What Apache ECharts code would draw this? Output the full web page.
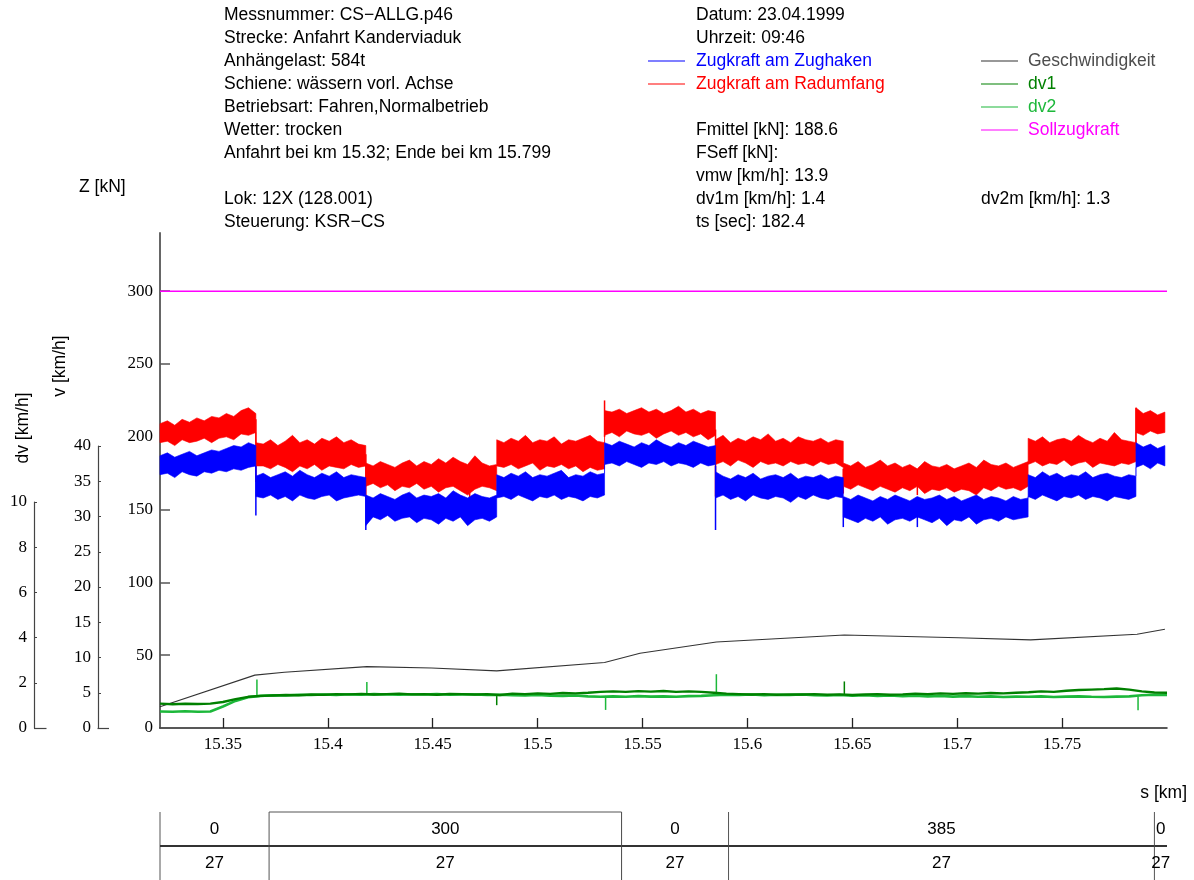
<!DOCTYPE html>
<html>
<head>
<meta charset="utf-8">
<script src="https://cdn.jsdelivr.net/npm/echarts@6.0.0/dist/echarts.min.js"></script>
<style>
  html, body { margin: 0; padding: 0; background: #fff; }
  #chart { width: 1194px; height: 880px; }
</style>
</head>
<body>
<div id="chart"></div>
<script>
// ---- track range (km) and axis ticks ----
const kmMin = 15.32;
const kmMax = 15.8;
const xTicks = [15.35, 15.4, 15.45, 15.5, 15.55, 15.6, 15.65, 15.7, 15.75];
const zTicks = [0, 50, 100, 150, 200, 250, 300];

// ---- tractive force: sections between load steps (km) ----
const segKm = [15.32, 15.3657, 15.4181, 15.4805, 15.5319, 15.5848, 15.6457, 15.7338, 15.7852, 15.799];

// Zugkraft am Radumfang [kN]: upper / lower edge of the signal per section
const redHi = [
  [209,211,208,212,210,213,211,214,213,216,214,218,220,216],
  [196,195,198,194,197,201,196,198,195,199,197,200,196,198,195,194],
  [182,180,183,181,179,182,184,180,183,181,185,182,186,183,181,187,182,180,181],
  [198,196,199,197,201,196,198,197,200,195,198,197,199,201,197,196],
  [218,217,219,216,218,220,217,219,216,218,221,217,219,216,218,217],
  [198,201,196,199,197,200,198,202,197,199,196,200,198,197,199,196,198,197],
  [182,180,183,179,181,184,180,182,179,181,178,183,180,179,181,178,180,182,179,184,181,180,182,179,181,183],
  [199,197,200,196,198,199,197,201,198,196,199,197,203,198,197,196],
  [220,216,218,215,217]
];
const redLo = [
  [196,197,194,198,196,197,199,196,199,200,198,202,201,203],
  [180,180,178,181,179,176,180,178,181,177,180,179,178,181,179,180],
  [166,168,165,167,163,166,165,168,164,166,162,165,166,163,160,164,166,165,163],
  [180,179,181,178,180,182,177,180,179,181,178,180,176,179,177,178],
  [201,203,200,204,202,201,203,199,202,204,201,203,200,202,198,201],
  [181,183,180,184,182,179,183,181,182,180,183,181,182,180,183,181,182,179],
  [166,164,167,165,163,166,164,162,165,163,166,161,164,163,165,162,164,163,160,165,163,166,164,165,163,166],
  [181,183,180,182,181,184,180,182,183,179,182,181,180,182,181,183],
  [203,201,204,202,203]
];
// single-sample peaks [km, from, to]
const redSpikes = [[15.3657,169,212],[15.4181,158,188],[15.4676,158,172],[15.5319,200,225],[15.5848,159,205],[15.6457,161,178],[15.681,160,172],[15.7852,190,220]];

// Zugkraft am Zughaken [kN]
const blueHi = [
  [187,189,186,188,190,187,189,191,190,192,194,193,196,194],
  [173,175,172,174,176,173,177,174,172,175,173,176,172,174,173,172],
  [160,158,161,159,157,160,162,158,160,159,161,158,163,160,158,161,159,158,160],
  [174,172,175,173,176,172,174,173,175,177,172,174,173,176,174,175],
  [196,194,197,195,193,196,194,198,195,193,196,194,197,195,193,194],
  [176,173,171,174,172,175,171,173,174,172,175,171,173,172,174,171,173,172],
  [159,157,160,158,156,159,157,160,158,156,159,157,158,160,157,159,156,158,160,157,159,158,156,159,157,158],
  [174,172,176,173,175,172,174,173,176,172,174,175,173,172,174,173],
  [196,193,195,192,194]
];
const blueLo = [
  [174,175,172,176,174,173,176,175,177,176,178,177,179,180],
  [159,158,160,157,159,156,160,158,157,159,160,156,158,159,160,159],
  [139,145,143,146,142,144,145,141,144,143,140,144,142,145,139,143,144,142,145],
  [158,159,157,160,158,156,159,158,160,157,159,158,156,159,158,160],
  [181,182,180,183,181,179,182,181,183,180,182,181,179,182,180,181],
  [158,160,157,159,156,160,158,157,159,158,155,159,157,160,158,157,159,158],
  [145,143,141,144,142,145,140,143,144,142,145,143,141,144,139,143,142,145,140,143,144,142,145,143,144,145],
  [159,157,160,158,156,159,158,160,157,159,158,156,159,158,157,159],
  [179,181,178,182,180]
];
const blueSpikes = [[15.3657,146,180],[15.4181,136,160],[15.5848,136,180],[15.6457,138,158],[15.681,138,150]];

// Sollzugkraft [kN]
const sollZugkraft = 300;

// ---- speed [km/h] ----
const speedKm  = [15.32, 15.3652, 15.3793, 15.4186, 15.4495, 15.4805, 15.5319, 15.5488, 15.5852, 15.6462, 15.7006, 15.735, 15.7857, 15.799];
const speedKmh = [3.0, 7.5, 7.9, 8.7, 8.5, 8.1, 9.3, 10.6, 12.2, 13.2, 12.8, 12.5, 13.3, 14.0];

// ---- speed differences dv1 / dv2 [km/h], sampled every 6 m from km 15.32 ----
const dvStartKm = 15.32;
const dvStepKm = 0.006;
const dv1 = [
  1.08,1.05,1.07,1.06,1.08, 1.15,1.28,1.38,1.42,1.44,
  1.46,1.45,1.48,1.47,1.50, 1.49,1.51,1.48,1.50,1.52,
  1.49,1.50,1.47,1.51,1.50, 1.48,1.50,1.46,1.52,1.50,
  1.53,1.51,1.55,1.53,1.56, 1.60,1.62,1.60,1.63,1.61,
  1.64,1.60,1.62,1.60,1.56, 1.52,1.50,1.48,1.50,1.47,
  1.49,1.48,1.50,1.47,1.49, 1.46,1.48,1.50,1.47,1.49,
  1.52,1.50,1.53,1.51,1.54, 1.52,1.55,1.53,1.56,1.58,
  1.62,1.60,1.65,1.68,1.70, 1.72,1.75,1.70,1.62,1.57,
  1.56
];
const dv2 = [
  0.73,0.72,0.74,0.72,0.73, 0.95,1.20,1.36,1.42,1.45,
  1.44,1.47,1.46,1.48,1.46, 1.49,1.47,1.50,1.48,1.47,
  1.49,1.48,1.50,1.47,1.49, 1.48,1.46,1.47,1.45,1.44,
  1.46,1.43,1.42,1.44,1.40, 1.38,1.40,1.38,1.41,1.39,
  1.40,1.38,1.41,1.42,1.45, 1.47,1.46,1.48,1.45,1.47,
  1.46,1.48,1.45,1.44,1.46, 1.43,1.45,1.42,1.44,1.41,
  1.43,1.40,1.42,1.39,1.41, 1.38,1.40,1.37,1.39,1.38,
  1.40,1.37,1.39,1.40,1.38, 1.37,1.39,1.40,1.45,1.47,
  1.46
];
const dv1Spikes = [[15.4805,1.50,1.01],[15.6462,1.48,2.06]];
const dv2Spikes = [[15.3662,1.45,2.15],[15.4186,1.48,2.04],[15.5324,1.42,0.80],[15.5852,1.55,2.38],[15.7862,1.40,0.78]];

// ---- track table: section limits, curve radius [m], gradient [‰] ----
const sectionKm = [15.32, 15.372, 15.54, 15.591, 15.794, 15.8];
const radius    = [0, 300, 0, 385, 0];
const gradient  = [27, 27, 27, 27, 27];
const curveSide = [0, 1, 0, -1, 0];

// ---- header texts ----
const infoLeft = [
  'Messnummer: CS\u2212ALLG.p46',
  'Strecke: Anfahrt Kanderviaduk',
  'Anhängelast: 584t',
  'Schiene: wässern vorl. Achse',
  'Betriebsart: Fahren,Normalbetrieb',
  'Wetter: trocken',
  'Anfahrt bei km 15.32; Ende bei km 15.799',
  '',
  'Lok: 12X (128.001)',
  'Steuerung: KSR\u2212CS'
];
const infoMid = ['Datum: 23.04.1999', 'Uhrzeit: 09:46', '', '', '', 'Fmittel [kN]: 188.6', 'FSeff [kN]:', 'vmw [km/h]: 13.9', 'dv1m [km/h]: 1.4', 'ts [sec]: 182.4'];
const infoRight = ['', '', '', '', '', '', '', '', 'dv2m [km/h]: 1.3', ''];

const COLORS = {
  red: '#ff0000', blue: '#0000ff', speed: '#333333', dv1: '#008000', dv2: '#1cb83a', soll: '#ff00ff'
};
const legendMid = [
  { name: 'Zugkraft am Zughaken', line: COLORS.blue, text: COLORS.blue, row: 2 },
  { name: 'Zugkraft am Radumfang', line: COLORS.red, text: COLORS.red, row: 3 }
];
const legendRight = [
  { name: 'Geschwindigkeit', line: COLORS.speed, text: '#4d4d4d', row: 2 },
  { name: 'dv1', line: COLORS.dv1, text: COLORS.dv1, row: 3 },
  { name: 'dv2', line: COLORS.dv2, text: COLORS.dv2, row: 4 },
  { name: 'Sollzugkraft', line: COLORS.soll, text: COLORS.soll, row: 5 }
];

const SANS = '"Liberation Sans", Arial, sans-serif';
const SERIF = '"Liberation Serif", "Times New Roman", serif';
const HEAD_FONT = '17.5px ' + SANS;

// ---- helpers ----
function bandPolygon(hi, lo) {
  const upper = [], lower = [];
  for (let s = 0; s < hi.length; s++) {
    const a = segKm[s], b = segKm[s + 1], n = hi[s].length;
    for (let j = 0; j < n; j++) {
      const km = a + j * (b - a) / (n - 1);
      upper.push([km, hi[s][j]]);
      lower.push([km, lo[s][j]]);
    }
  }
  return upper.concat(lower.reverse());
}
function bandSeries(name, poly, color) {
  return {
    type: 'custom', name, xAxisIndex: 0, yAxisIndex: 0, silent: true,
    data: [[poly[0][0], poly[0][1]]],
    renderItem: (params, api) => ({
      type: 'polygon',
      shape: { points: poly.map(p => api.coord(p)) },
      style: { fill: color, stroke: color, lineWidth: 0.6, lineJoin: 'miter', miterLimit: 20 }
    })
  };
}
function spikeSeries(spikes, color, axisIdx, width) {
  return {
    type: 'custom', xAxisIndex: axisIdx, yAxisIndex: axisIdx, silent: true,
    data: spikes, encode: { x: 0, y: [1, 2] },
    renderItem: (params, api) => {
      const p1 = api.coord([api.value(0), api.value(1)]);
      const p2 = api.coord([api.value(0), api.value(2)]);
      return { type: 'line', shape: { x1: p1[0], y1: p1[1], x2: p2[0], y2: p2[1] }, style: { stroke: color, lineWidth: width } };
    }
  };
}
const dvPairs = arr => arr.map((v, i) => [dvStartKm + i * dvStepKm, v]);
const rowY = r => 15 + 23 * r;

function txt(x, y, text, color, align, extra) {
  const a = align || 'left';
  return Object.assign({
    type: 'text', x, y, silent: true,
    style: { text, fill: color, font: HEAD_FONT, textAlign: a, textVerticalAlign: 'middle', align: a, verticalAlign: 'middle' }
  }, extra || {});
}
function seg(x1, y1, x2, y2, color, w) {
  return { type: 'line', silent: true, shape: { x1, y1, x2, y2 }, style: { stroke: color, lineWidth: w || 1 } };
}

// ---- header / legend / axis titles ----
const graphics = [];
infoLeft.forEach((t, r) => { if (t) graphics.push(txt(224, rowY(r), t, '#000')); });
infoMid.forEach((t, r) => { if (t) graphics.push(txt(696, rowY(r), t, '#000')); });
infoRight.forEach((t, r) => { if (t) graphics.push(txt(981, rowY(r), t, '#000')); });
legendMid.forEach(l => {
  graphics.push(seg(648, rowY(l.row), 685, rowY(l.row), l.line, 1.2));
  graphics.push(txt(696, rowY(l.row), l.name, l.text));
});
legendRight.forEach(l => {
  graphics.push(seg(981, rowY(l.row), 1018, rowY(l.row), l.line, 1.2));
  graphics.push(txt(1028, rowY(l.row), l.name, l.text));
});
graphics.push(txt(79, 187, 'Z [kN]', '#000'));
graphics.push(txt(60, 366, 'v [km/h]', '#000', 'center', { rotation: Math.PI / 2 }));
graphics.push(txt(23, 428, 'dv [km/h]', '#000', 'center', { rotation: Math.PI / 2 }));
graphics.push(txt(1187, 793, 's [km]', '#000', 'right'));
// foot of the v and dv scales
graphics.push(seg(97.5, 728.5, 109, 728.5, '#444', 1.2));
graphics.push(seg(34, 728.5, 46.5, 728.5, '#444', 1.2));

// ---- axes ----
const hiddenX = gi => ({ gridIndex: gi, type: 'value', min: kmMin, max: kmMax, show: false });
const sideAxis = (gi, max, interval, offset) => ({
  gridIndex: gi, type: 'value', min: 0, max, interval, offset, position: 'left',
  axisLine: { show: true, lineStyle: { color: '#444', width: 1.2 } },
  axisTick: { show: true, inside: true, length: 3, lineStyle: { color: '#444' } },
  axisLabel: { fontFamily: SERIF, fontSize: 17, color: '#000', margin: 7 },
  splitLine: { show: false }
});

const redPoly = bandPolygon(redHi, redLo);
const bluePoly = bandPolygon(blueHi, blueLo);

const option = {
  animation: false,
  backgroundColor: '#ffffff',
  grid: [
    { left: 160, right: 27, top: 233, bottom: 152 },
    { left: 160, right: 27, top: 446, bottom: 152 },
    { left: 160, right: 27, top: 502, bottom: 152 },
    { left: 160, right: 27, top: 812, bottom: 0 }
  ],
  xAxis: [
    {
      gridIndex: 0, type: 'value', min: kmMin, max: kmMax,
      axisLine: { lineStyle: { color: '#222', width: 1.5 } },
      axisTick: { inside: true, length: 10, customValues: xTicks, lineStyle: { color: '#222', width: 1.3 } },
      axisLabel: {
        customValues: xTicks, fontFamily: SERIF, fontSize: 17, color: '#000', margin: 8,
        formatter: v => String(+(+v).toFixed(2))
      },
      splitLine: { show: false }
    },
    hiddenX(1), hiddenX(2), hiddenX(3)
  ],
  yAxis: [
    {
      gridIndex: 0, type: 'value', min: 0, max: 340,
      axisLine: { show: true, lineStyle: { color: '#666', width: 2 } },
      axisTick: { show: true, inside: true, length: 10, customValues: zTicks, lineStyle: { color: '#555', width: 1.5 } },
      axisLabel: { customValues: zTicks, fontFamily: SERIF, fontSize: 17, color: '#000', margin: 7 },
      splitLine: { show: false }
    },
    sideAxis(1, 40, 5, 62),
    sideAxis(2, 10, 2, 126),
    { gridIndex: 3, type: 'value', min: 0, max: 2, inverse: true, show: false }
  ],
  series: [
    {
      type: 'line', name: 'Sollzugkraft', xAxisIndex: 0, yAxisIndex: 0, showSymbol: false, silent: true,
      data: [[kmMin, sollZugkraft], [kmMax, sollZugkraft]],
      lineStyle: { color: COLORS.soll, width: 1.5 }
    },
    bandSeries('Zugkraft am Radumfang', redPoly, COLORS.red),
    spikeSeries(redSpikes, COLORS.red, 0, 1.5),
    bandSeries('Zugkraft am Zughaken', bluePoly, COLORS.blue),
    spikeSeries(blueSpikes, COLORS.blue, 0, 1.5),
    {
      type: 'line', name: 'Geschwindigkeit', xAxisIndex: 1, yAxisIndex: 1, showSymbol: false, silent: true,
      data: speedKm.map((k, i) => [k, speedKmh[i]]),
      lineStyle: { color: COLORS.speed, width: 1.1 }
    },
    {
      type: 'line', name: 'dv2', xAxisIndex: 2, yAxisIndex: 2, showSymbol: false, silent: true,
      data: dvPairs(dv2), lineStyle: { color: COLORS.dv2, width: 2.6 }
    },
    spikeSeries(dv2Spikes, COLORS.dv2, 2, 1.5),
    {
      type: 'line', name: 'dv1', xAxisIndex: 2, yAxisIndex: 2, showSymbol: false, silent: true,
      data: dvPairs(dv1), lineStyle: { color: COLORS.dv1, width: 2.4 }
    },
    spikeSeries(dv1Spikes, COLORS.dv1, 2, 1.5),
    {
      // track table: curve radius (upper row) and gradient (lower row)
      type: 'custom', xAxisIndex: 3, yAxisIndex: 3, silent: true, clip: false,
      data: radius.map((r, i) => [sectionKm[i], sectionKm[i + 1], r, gradient[i], curveSide[i]]),
      encode: { x: [0, 1], y: 4 },
      renderItem: (params, api) => {
        const a = api.coord([api.value(0), 0]);
        const b = api.coord([api.value(1), 1]);
        const c = api.coord([api.value(0), 2]);
        const xa = a[0], xb = b[0], yTop = a[1], yMid = b[1], yBot = c[1];
        const xm = (xa + xb) / 2;
        const cellText = (t, y) => ({
          type: 'text',
          style: { text: String(t), x: xm, y, fill: '#000', font: '17px ' + SANS, textAlign: 'center', textVerticalAlign: 'middle', align: 'center', verticalAlign: 'middle' }
        });
        const children = [
          { type: 'line', shape: { x1: xa, y1: yTop, x2: xa, y2: yBot }, style: { stroke: '#555', lineWidth: 1 } },
          { type: 'line', shape: { x1: xa, y1: yMid, x2: xb, y2: yMid }, style: { stroke: '#333', lineWidth: 2 } },
          cellText(api.value(2), (yTop + yMid) / 2),
          cellText(api.value(3), (yMid + yBot) / 2)
        ];
        if (api.value(4) === 1) {
          children.push({ type: 'line', shape: { x1: xa, y1: yTop, x2: xb, y2: yTop }, style: { stroke: '#555', lineWidth: 1 } });
          children.push({ type: 'line', shape: { x1: xb, y1: yTop, x2: xb, y2: yBot }, style: { stroke: '#555', lineWidth: 1 } });
        }
        return { type: 'group', children };
      }
    }
  ],
  graphic: graphics
};

const chart = echarts.init(document.getElementById('chart'), null, { renderer: 'canvas' });
chart.setOption(option);
</script>
</body>
</html>
